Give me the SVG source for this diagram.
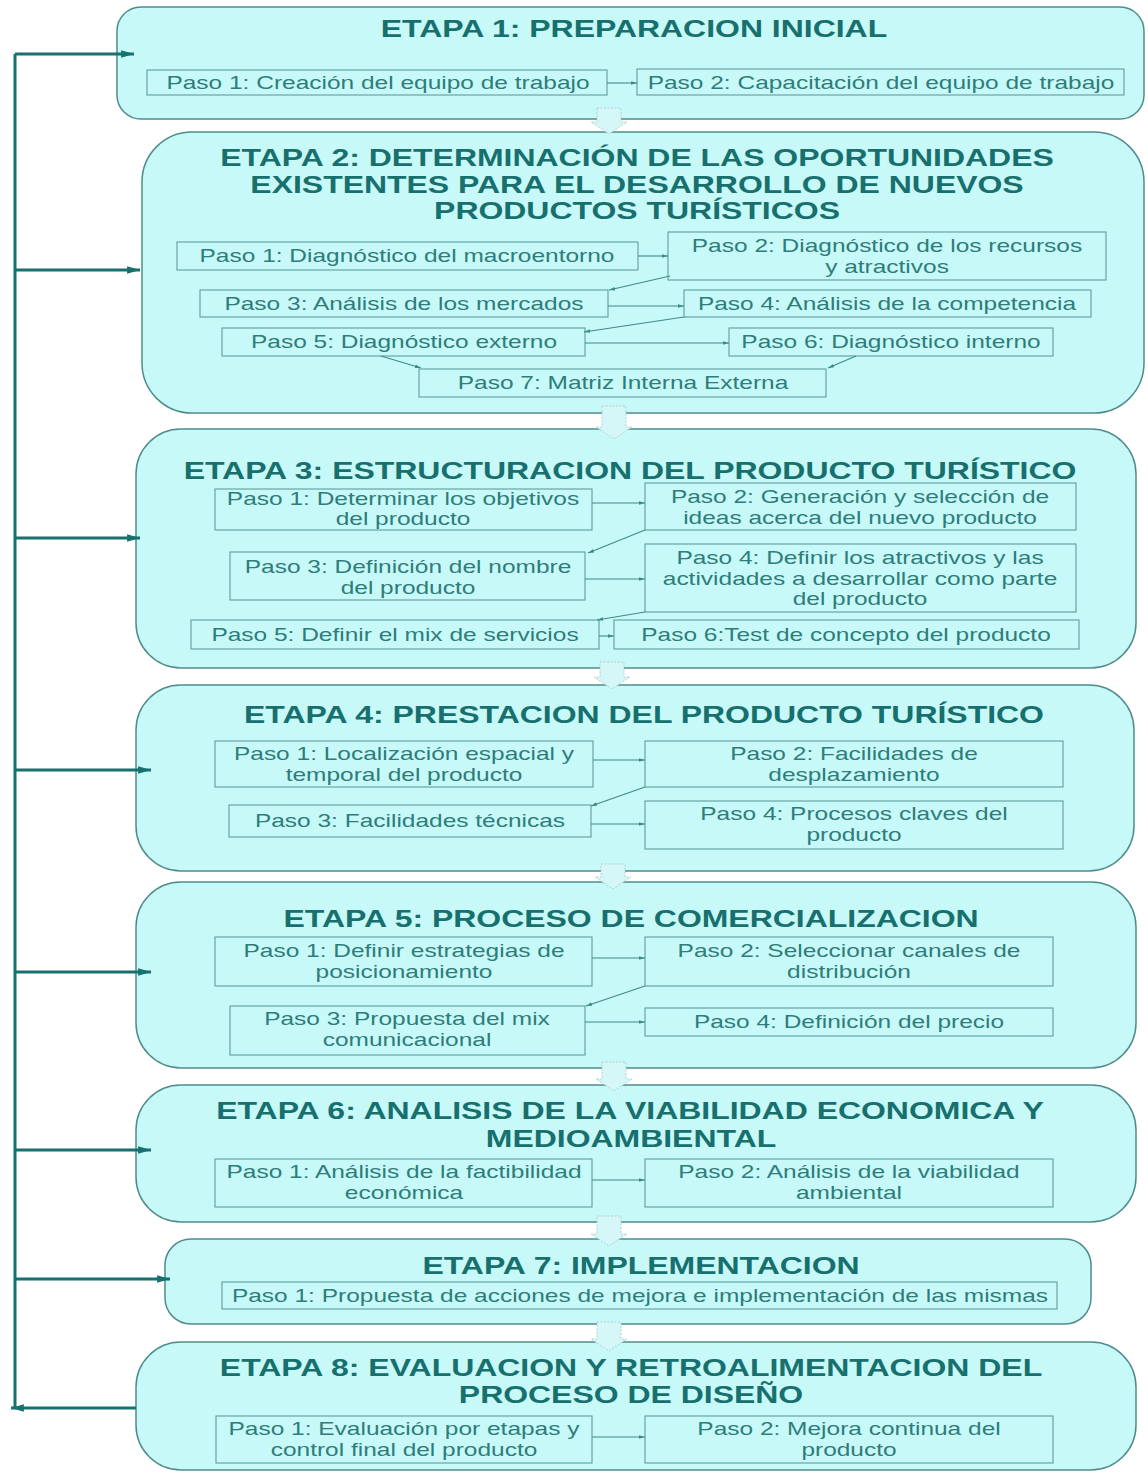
<svg xmlns="http://www.w3.org/2000/svg" width="1148" height="1473" viewBox="0 0 1148 1473">
<style>
.bg{fill:#ffffff}
.et{fill:#c7f9f9;stroke:#4f8d8b;stroke-width:1.5}
.ps{fill:none;stroke:#5f9d9b;stroke-width:1.1}
.tt{font-family:"Liberation Sans",Arial,sans-serif;font-weight:bold;font-size:23px;fill:#17706d;text-anchor:middle}
.pt{font-family:"Liberation Sans",Arial,sans-serif;font-size:17.5px;fill:#2e7d7a;text-anchor:middle}
.fb{fill:none;stroke:#16716f;stroke-width:3}
.cn{fill:none;stroke:#3f8a88;stroke-width:1.1}
.ba{fill:#d6f7f7;stroke:#a9c6c6;stroke-width:0.8;stroke-dasharray:2 1.5}
</style>
<defs>
<marker id="mfb" viewBox="0 0 10 10" refX="10" refY="5" markerWidth="4.3" markerHeight="4.3" orient="auto" markerUnits="strokeWidth"><path d="M0,2 L10,5 L0,8 z" fill="#16716f"/></marker>
<marker id="mcn" viewBox="0 0 10 10" refX="10" refY="5" markerWidth="5.5" markerHeight="5.5" orient="auto" markerUnits="strokeWidth"><path d="M0,2 L10,5 L0,8 z" fill="#3f8a88"/></marker>
</defs>
<rect class="bg" x="0" y="0" width="1148" height="1473"/>

<g id="etapa1">
<rect class="et" x="117" y="7" width="1027" height="112" rx="24"/>
<text class="tt" transform="matrix(1.39 0 0 1 634 37)">ETAPA 1: PREPARACION INICIAL</text>
<g id="e1p1"><rect class="ps" x="147" y="70" width="460" height="25"/><text class="pt" transform="matrix(1.4 0 0 1 378 89)">Paso 1: Creación del equipo de trabajo</text></g>
<g id="e1p2"><rect class="ps" x="637" y="69" width="487" height="26"/><text class="pt" transform="matrix(1.4 0 0 1 881 89)">Paso 2: Capacitación del equipo de trabajo</text></g>
</g>

<g id="etapa2">
<rect class="et" x="142" y="132" width="1002" height="281" rx="50"/>
<text class="tt" transform="matrix(1.39 0 0 1 637 166)">ETAPA 2: DETERMINACIÓN DE LAS OPORTUNIDADES</text>
<text class="tt" transform="matrix(1.39 0 0 1 637 193)">EXISTENTES PARA EL DESARROLLO DE NUEVOS</text>
<text class="tt" transform="matrix(1.39 0 0 1 637 219)">PRODUCTOS TURÍSTICOS</text>
<g id="e2p1"><rect class="ps" x="177" y="242" width="461" height="28"/><text class="pt" transform="matrix(1.4 0 0 1 407 262)">Paso 1: Diagnóstico del macroentorno</text></g>
<g id="e2p2"><rect class="ps" x="668" y="232" width="438" height="48"/><text class="pt" transform="matrix(1.4 0 0 1 887 252)">Paso 2: Diagnóstico de los recursos</text><text class="pt" transform="matrix(1.4 0 0 1 887 273)">y atractivos</text></g>
<g id="e2p3"><rect class="ps" x="200" y="290" width="408" height="27"/><text class="pt" transform="matrix(1.4 0 0 1 404 310)">Paso 3: Análisis de los mercados</text></g>
<g id="e2p4"><rect class="ps" x="684" y="290" width="407" height="27"/><text class="pt" transform="matrix(1.4 0 0 1 887 310)">Paso 4: Análisis de la competencia</text></g>
<g id="e2p5"><rect class="ps" x="222" y="328" width="363" height="28"/><text class="pt" transform="matrix(1.4 0 0 1 404 348)">Paso 5: Diagnóstico externo</text></g>
<g id="e2p6"><rect class="ps" x="729" y="328" width="324" height="28"/><text class="pt" transform="matrix(1.4 0 0 1 891 348)">Paso 6: Diagnóstico interno</text></g>
<g id="e2p7"><rect class="ps" x="419" y="369" width="407" height="28"/><text class="pt" transform="matrix(1.4 0 0 1 623 389)">Paso 7: Matriz Interna Externa</text></g>
</g>

<g id="etapa3">
<rect class="et" x="136" y="429" width="1000" height="239" rx="45"/>
<text class="tt" transform="matrix(1.39 0 0 1 630 479)">ETAPA 3: ESTRUCTURACION DEL PRODUCTO TURÍSTICO</text>
<g id="e3p1"><rect class="ps" x="215" y="489" width="377" height="41"/><text class="pt" transform="matrix(1.4 0 0 1 403 505)">Paso 1: Determinar los objetivos</text><text class="pt" transform="matrix(1.4 0 0 1 403 525)">del producto</text></g>
<g id="e3p2"><rect class="ps" x="645" y="483" width="431" height="47"/><text class="pt" transform="matrix(1.4 0 0 1 860 503)">Paso 2: Generación y selección de</text><text class="pt" transform="matrix(1.4 0 0 1 860 524)">ideas acerca del nuevo producto</text></g>
<g id="e3p3"><rect class="ps" x="230" y="552" width="355" height="48"/><text class="pt" transform="matrix(1.4 0 0 1 408 573)">Paso 3: Definición del nombre</text><text class="pt" transform="matrix(1.4 0 0 1 408 594)">del producto</text></g>
<g id="e3p4"><rect class="ps" x="645" y="544" width="431" height="68"/><text class="pt" transform="matrix(1.4 0 0 1 860 564)">Paso 4: Definir los atractivos y las</text><text class="pt" transform="matrix(1.4 0 0 1 860 585)">actividades a desarrollar como parte</text><text class="pt" transform="matrix(1.4 0 0 1 860 605)">del producto</text></g>
<g id="e3p5"><rect class="ps" x="191" y="620" width="408" height="29"/><text class="pt" transform="matrix(1.4 0 0 1 395 641)">Paso 5: Definir el mix de servicios</text></g>
<g id="e3p6"><rect class="ps" x="614" y="620" width="465" height="29"/><text class="pt" transform="matrix(1.4 0 0 1 846 641)">Paso 6:Test de concepto del producto</text></g>
</g>

<g id="etapa4">
<rect class="et" x="136" y="685" width="998" height="186" rx="45"/>
<text class="tt" transform="matrix(1.39 0 0 1 644 723)">ETAPA 4: PRESTACION DEL PRODUCTO TURÍSTICO</text>
<g id="e4p1"><rect class="ps" x="215" y="741" width="378" height="46"/><text class="pt" transform="matrix(1.4 0 0 1 404 760)">Paso 1: Localización espacial y</text><text class="pt" transform="matrix(1.4 0 0 1 404 781)">temporal del producto</text></g>
<g id="e4p2"><rect class="ps" x="645" y="741" width="418" height="46"/><text class="pt" transform="matrix(1.4 0 0 1 854 760)">Paso 2: Facilidades de</text><text class="pt" transform="matrix(1.4 0 0 1 854 781)">desplazamiento</text></g>
<g id="e4p3"><rect class="ps" x="229" y="805" width="362" height="32"/><text class="pt" transform="matrix(1.4 0 0 1 410 827)">Paso 3: Facilidades técnicas</text></g>
<g id="e4p4"><rect class="ps" x="645" y="801" width="418" height="48"/><text class="pt" transform="matrix(1.4 0 0 1 854 820)">Paso 4: Procesos claves del</text><text class="pt" transform="matrix(1.4 0 0 1 854 841)">producto</text></g>
</g>

<g id="etapa5">
<rect class="et" x="136" y="882" width="1000" height="186" rx="45"/>
<text class="tt" transform="matrix(1.39 0 0 1 631 927)">ETAPA 5: PROCESO DE COMERCIALIZACION</text>
<g id="e5p1"><rect class="ps" x="215" y="937" width="377" height="49"/><text class="pt" transform="matrix(1.4 0 0 1 404 957)">Paso 1: Definir estrategias de</text><text class="pt" transform="matrix(1.4 0 0 1 404 978)">posicionamiento</text></g>
<g id="e5p2"><rect class="ps" x="645" y="937" width="408" height="49"/><text class="pt" transform="matrix(1.4 0 0 1 849 957)">Paso 2: Seleccionar canales de</text><text class="pt" transform="matrix(1.4 0 0 1 849 978)">distribución</text></g>
<g id="e5p3"><rect class="ps" x="230" y="1006" width="355" height="49"/><text class="pt" transform="matrix(1.4 0 0 1 407 1025)">Paso 3: Propuesta del mix</text><text class="pt" transform="matrix(1.4 0 0 1 407 1046)">comunicacional</text></g>
<g id="e5p4"><rect class="ps" x="645" y="1008" width="408" height="28"/><text class="pt" transform="matrix(1.4 0 0 1 849 1028)">Paso 4: Definición del precio</text></g>
</g>

<g id="etapa6">
<rect class="et" x="136" y="1085" width="1000" height="137" rx="45"/>
<text class="tt" transform="matrix(1.39 0 0 1 630 1119)">ETAPA 6: ANALISIS DE LA VIABILIDAD ECONOMICA Y</text>
<text class="tt" transform="matrix(1.39 0 0 1 631 1147)">MEDIOAMBIENTAL</text>
<g id="e6p1"><rect class="ps" x="215" y="1159" width="377" height="48"/><text class="pt" transform="matrix(1.4 0 0 1 404 1178)">Paso 1: Análisis de la factibilidad</text><text class="pt" transform="matrix(1.4 0 0 1 404 1199)">económica</text></g>
<g id="e6p2"><rect class="ps" x="645" y="1159" width="408" height="48"/><text class="pt" transform="matrix(1.4 0 0 1 849 1178)">Paso 2: Análisis de la viabilidad</text><text class="pt" transform="matrix(1.4 0 0 1 849 1199)">ambiental</text></g>
</g>

<g id="etapa7">
<rect class="et" x="165" y="1239" width="926" height="85" rx="26"/>
<text class="tt" transform="matrix(1.39 0 0 1 641 1274)">ETAPA 7: IMPLEMENTACION</text>
<g id="e7p1"><rect class="ps" x="222" y="1282" width="835" height="27"/><text class="pt" transform="matrix(1.4 0 0 1 640 1302)">Paso 1: Propuesta de acciones de mejora e implementación de las mismas</text></g>
</g>

<g id="etapa8">
<rect class="et" x="136" y="1342" width="1000" height="128" rx="45"/>
<text class="tt" transform="matrix(1.39 0 0 1 631 1376)">ETAPA 8: EVALUACION Y RETROALIMENTACION DEL</text>
<text class="tt" transform="matrix(1.39 0 0 1 631 1403)">PROCESO DE DISEÑO</text>
<g id="e8p1"><rect class="ps" x="216" y="1416" width="376" height="47"/><text class="pt" transform="matrix(1.4 0 0 1 404 1435)">Paso 1: Evaluación por etapas y</text><text class="pt" transform="matrix(1.4 0 0 1 404 1456)">control final del producto</text></g>
<g id="e8p2"><rect class="ps" x="645" y="1416" width="408" height="47"/><text class="pt" transform="matrix(1.4 0 0 1 849 1435)">Paso 2: Mejora continua del</text><text class="pt" transform="matrix(1.4 0 0 1 849 1456)">producto</text></g>
</g>

<g id="connectors">
<polygon class="ba" points="597,108 621,108 621,122 627,122 609,134 591,122 597,122"/>
<polygon class="ba" points="602,406 626,406 626,427 632,427 614,439 596,427 602,427"/>
<polygon class="ba" points="600,662 624,662 624,677 630,677 612,689 594,677 600,677"/>
<polygon class="ba" points="601,864 625,864 625,877 631,877 613,889 595,877 601,877"/>
<polygon class="ba" points="602,1062 626,1062 626,1079 632,1079 614,1091 596,1079 602,1079"/>
<polygon class="ba" points="597,1216 621,1216 621,1234 627,1234 609,1246 591,1234 597,1234"/>
<polygon class="ba" points="597,1322 621,1322 621,1339 627,1339 609,1351 591,1339 597,1339"/>

<path class="fb" d="M15,54 V1408"/>
<path class="fb" d="M15,54 H134" marker-end="url(#mfb)"/>
<path class="fb" d="M15,270 H140" marker-end="url(#mfb)"/>
<path class="fb" d="M15,538 H140" marker-end="url(#mfb)"/>
<path class="fb" d="M15,770 H151" marker-end="url(#mfb)"/>
<path class="fb" d="M15,972 H151" marker-end="url(#mfb)"/>
<path class="fb" d="M15,1150 H151" marker-end="url(#mfb)"/>
<path class="fb" d="M15,1279 H170" marker-end="url(#mfb)"/>
<path class="fb" d="M136,1408 H11" marker-end="url(#mfb)"/>

<path class="cn" d="M607,83 H637" marker-end="url(#mcn)"/>
<path class="cn" d="M638,256 H668" marker-end="url(#mcn)"/>
<path class="cn" d="M670,276 L609,290" marker-end="url(#mcn)"/>
<path class="cn" d="M608,306 H684" marker-end="url(#mcn)"/>
<path class="cn" d="M684,317 L584,332" marker-end="url(#mcn)"/>
<path class="cn" d="M585,343 H729" marker-end="url(#mcn)"/>
<path class="cn" d="M856,356 L828,368" marker-end="url(#mcn)"/>
<path class="cn" d="M381,356 L421,368" marker-end="url(#mcn)"/>
<path class="cn" d="M592,503 H645" marker-end="url(#mcn)"/>
<path class="cn" d="M645,530 L588,553" marker-end="url(#mcn)"/>
<path class="cn" d="M585,579 H645" marker-end="url(#mcn)"/>
<path class="cn" d="M645,612 L597,620" marker-end="url(#mcn)"/>
<path class="cn" d="M599,636 H614" marker-end="url(#mcn)"/>
<path class="cn" d="M593,760 H645" marker-end="url(#mcn)"/>
<path class="cn" d="M645,787 L591,806" marker-end="url(#mcn)"/>
<path class="cn" d="M591,824 H645" marker-end="url(#mcn)"/>
<path class="cn" d="M592,958 H645" marker-end="url(#mcn)"/>
<path class="cn" d="M645,986 L586,1006" marker-end="url(#mcn)"/>
<path class="cn" d="M585,1022 H645" marker-end="url(#mcn)"/>
<path class="cn" d="M592,1180 H645" marker-end="url(#mcn)"/>
<path class="cn" d="M592,1437 H645" marker-end="url(#mcn)"/>
</g>
</svg>
